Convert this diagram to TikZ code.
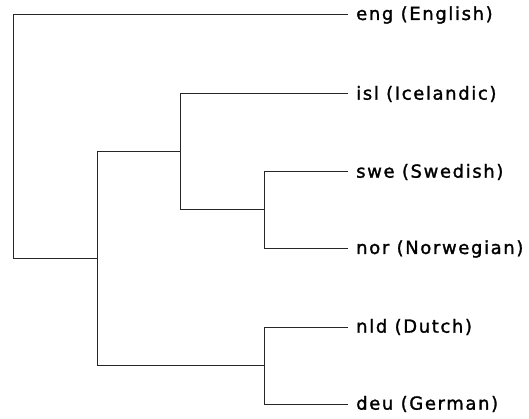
\documentclass[tikz,border=0pt]{standalone}
\usepackage{fontspec}
\setmainfont{DejaVu Sans}[LetterSpace=9,FakeBold=1.5]
\begin{document}
\begin{tikzpicture}[x=1pt,y=-1pt,
  leaf/.style={anchor=west,inner sep=0pt,xshift=8pt,font=\fontsize{18}{20}\selectfont,text=black},
  edge/.style={draw=black!85,line width=1pt}]
\useasboundingbox (0,0) rectangle (529,419);
% leaf ends
\coordinate (le) at (348,15);
\coordinate (li) at (348,94);
\coordinate (ls) at (348,172);
\coordinate (lo) at (348,249);
\coordinate (ln) at (348,327);
\coordinate (ld) at (348,404);
\node[leaf] (eng) at (le) {eng (English)};
\node[leaf] (isl) at (li) {isl (Icelandic)};
\node[leaf] (swe) at (ls) {swe (Swedish)};
\node[leaf] (nor) at (lo) {nor (Norwegian)};
\node[leaf] (nld) at (ln) {nld (Dutch)};
\node[leaf] (deu) at (ld) {deu (German)};
% internal nodes
\coordinate (r) at (13,258);
\coordinate (a) at (97,152);
\coordinate (a2) at (97,365);
\coordinate (b) at (180,94);
\coordinate (b2) at (180,210);
\coordinate (c) at (264,172);
\coordinate (c2) at (264,249);
\coordinate (d) at (264,327);
\coordinate (d2) at (264,404);
% connectors
\draw[edge] (le) -| (r) -- (r -| a);
\draw[edge] (a |- r) -- (a) -- (b |- a);
\draw[edge] (a) -- (a2) -- (d |- a2);
\draw[edge] (b |- a) -- (b) -- (li);
\draw[edge] (b) -- (b2) -- (c |- b2);
\draw[edge] (c |- b2) -- (c) -- (ls);
\draw[edge] (c |- b2) -- (c2) -- (lo);
\draw[edge] (d |- a2) -- (d) -- (ln);
\draw[edge] (d |- a2) -- (d2) -- (ld);
\end{tikzpicture}
\end{document}
